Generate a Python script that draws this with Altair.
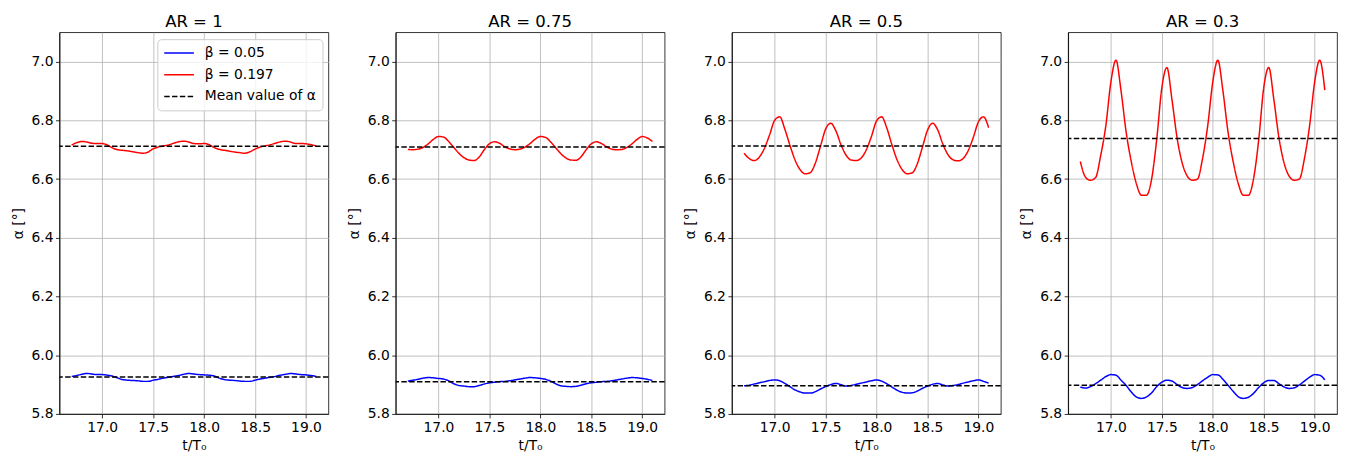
import altair as alt
import pandas as pd

T = [16.70, 16.75, 16.80, 16.85, 16.90, 16.95, 17.00, 17.05, 17.10, 17.15,
     17.20, 17.25, 17.30, 17.35, 17.40, 17.45, 17.50, 17.55, 17.60, 17.65,
     17.70, 17.75, 17.80, 17.85, 17.90, 17.95, 18.00, 18.05, 18.10, 18.15,
     18.20, 18.25, 18.30, 18.35, 18.40, 18.45, 18.50, 18.55, 18.60, 18.65,
     18.70, 18.75, 18.80, 18.85, 18.90, 18.95, 19.00, 19.05, 19.10]

AR_TITLES = ["AR = 1", "AR = 0.75", "AR = 0.5", "AR = 0.3"]

# AR = 1
B1 = [5.928, 5.931, 5.935, 5.938, 5.936, 5.934, 5.934, 5.932, 5.929, 5.923,
      5.917, 5.915, 5.914, 5.913, 5.911, 5.911, 5.915, 5.918, 5.922, 5.925,
      5.928, 5.931, 5.935, 5.938, 5.936, 5.934, 5.933, 5.932, 5.929, 5.922,
      5.917, 5.915, 5.914, 5.912, 5.911, 5.911, 5.915, 5.919, 5.922, 5.925,
      5.928, 5.932, 5.935, 5.938, 5.936, 5.934, 5.933, 5.931, 5.928]
R1 = [6.716, 6.724, 6.728, 6.726, 6.722, 6.721, 6.721, 6.716, 6.706, 6.700,
      6.698, 6.696, 6.693, 6.690, 6.688, 6.692, 6.703, 6.709, 6.713, 6.716,
      6.722, 6.727, 6.729, 6.726, 6.721, 6.720, 6.721, 6.717, 6.707, 6.701,
      6.698, 6.695, 6.692, 6.690, 6.688, 6.693, 6.702, 6.709, 6.713, 6.717,
      6.722, 6.727, 6.729, 6.726, 6.721, 6.721, 6.720, 6.717, 6.713]

# AR = 0.75
B2 = [5.912, 5.915, 5.918, 5.922, 5.924, 5.923, 5.921, 5.919, 5.913, 5.903,
      5.897, 5.895, 5.893, 5.893, 5.897, 5.902, 5.906, 5.908, 5.910, 5.911,
      5.913, 5.916, 5.919, 5.922, 5.924, 5.923, 5.921, 5.918, 5.912, 5.903,
      5.896, 5.894, 5.893, 5.894, 5.898, 5.903, 5.906, 5.908, 5.910, 5.911,
      5.913, 5.916, 5.919, 5.922, 5.924, 5.923, 5.921, 5.918, 5.914]
R2 = [6.701, 6.700, 6.702, 6.708, 6.720, 6.735, 6.745, 6.743, 6.728, 6.708,
      6.688, 6.673, 6.665, 6.663, 6.675, 6.700, 6.720, 6.727, 6.722, 6.710,
      6.703, 6.700, 6.702, 6.709, 6.721, 6.736, 6.745, 6.742, 6.727, 6.707,
      6.687, 6.672, 6.665, 6.664, 6.676, 6.700, 6.720, 6.727, 6.721, 6.710,
      6.702, 6.700, 6.701, 6.708, 6.720, 6.735, 6.745, 6.740, 6.728]

# AR = 0.5
B3 = [5.896, 5.898, 5.902, 5.906, 5.910, 5.914, 5.916, 5.913, 5.904, 5.893,
      5.882, 5.875, 5.871, 5.871, 5.876, 5.885, 5.893, 5.900, 5.904, 5.900,
      5.895, 5.897, 5.901, 5.905, 5.909, 5.913, 5.916, 5.912, 5.903, 5.892,
      5.881, 5.874, 5.871, 5.872, 5.878, 5.887, 5.895, 5.901, 5.904, 5.899,
      5.895, 5.897, 5.900, 5.905, 5.909, 5.913, 5.916, 5.911, 5.905]
R3 = [6.688, 6.670, 6.663, 6.675, 6.705, 6.750, 6.800, 6.812, 6.770, 6.715,
      6.665, 6.632, 6.618, 6.622, 6.655, 6.712, 6.770, 6.790, 6.765, 6.718,
      6.682, 6.665, 6.663, 6.672, 6.700, 6.745, 6.798, 6.812, 6.775, 6.718,
      6.667, 6.633, 6.618, 6.621, 6.652, 6.708, 6.766, 6.790, 6.768, 6.720,
      6.684, 6.666, 6.662, 6.670, 6.697, 6.742, 6.795, 6.812, 6.775]

# AR = 0.3
B4 = [5.892, 5.888, 5.893, 5.903, 5.915, 5.927, 5.934, 5.932, 5.915, 5.897,
      5.875, 5.858, 5.853, 5.858, 5.872, 5.893, 5.908, 5.915, 5.912, 5.900,
      5.890, 5.887, 5.890, 5.900, 5.913, 5.925, 5.934, 5.933, 5.918, 5.898,
      5.877, 5.859, 5.853, 5.857, 5.870, 5.890, 5.906, 5.914, 5.914, 5.903,
      5.892, 5.887, 5.889, 5.899, 5.912, 5.925, 5.934, 5.932, 5.916]
R4 = [6.660, 6.607, 6.596, 6.605, 6.680, 6.780, 6.930, 7.005, 6.900, 6.760,
      6.660, 6.585, 6.545, 6.545, 6.600, 6.735, 6.910, 6.980, 6.870, 6.740,
      6.655, 6.610, 6.596, 6.600, 6.670, 6.780, 6.930, 7.005, 6.900, 6.760,
      6.660, 6.585, 6.545, 6.545, 6.600, 6.730, 6.910, 6.980, 6.870, 6.740,
      6.655, 6.610, 6.596, 6.600, 6.670, 6.780, 6.930, 7.005, 6.903]

MEAN_BLUE = [5.926, 5.910, 5.896, 5.898]
MEAN_RED = [6.712, 6.709, 6.713, 6.738]

SERIES = ["β = 0.05", "β = 0.197", "Mean value of α"]
COLORS = ["#0000ff", "#ff0000", "#000000"]
DASHES = [[1, 0], [1, 0], [5.5, 2.4]]
X_TICKS = [17.0, 17.5, 18.0, 18.5, 19.0]
Y_TICKS = [5.8, 6.0, 6.2, 6.4, 6.6, 6.8, 7.0]

FONT = "DejaVu Sans"

legend = alt.Legend(
    title=None, orient="none", legendX=99, legendY=7,
    symbolType="stroke", symbolSize=900, symbolStrokeWidth=1.5,
    labelFontSize=14, labelFont=FONT, labelColor="black",
    fillColor="rgba(255,255,255,0.8)", strokeColor="#cccccc",
    cornerRadius=4, padding=6, rowPadding=6, clipHeight=16,
    labelOffset=10, labelLimit=300,
)

color = alt.Color("series:N", scale=alt.Scale(domain=SERIES, range=COLORS), legend=legend)
dash = alt.StrokeDash("series:N", scale=alt.Scale(domain=SERIES, range=DASHES), legend=legend)


def panel(title, blue, red, mb, mr):
    df = pd.DataFrame({
        "t": T + T,
        "alpha": blue + red,
        "series": [SERIES[0]] * len(T) + [SERIES[1]] * len(T),
    })
    mdf = pd.DataFrame({"alpha": [mb, mr], "series": [SERIES[2], SERIES[2]]})
    x = alt.X("t:Q", scale=alt.Scale(domain=[16.58, 19.22], nice=False, zero=False),
              axis=alt.Axis(title="t/T₀", values=X_TICKS, format=".1f"))
    y = alt.Y("alpha:Q", scale=alt.Scale(domain=[5.8, 7.1], nice=False, zero=False),
              axis=alt.Axis(title="α [°]", values=Y_TICKS, format=".1f",
                            titlePadding=6))
    lines = alt.Chart(df).mark_line(strokeWidth=1.5, interpolate="monotone").encode(
        x=x, y=y, color=color, strokeDash=dash)
    rules = alt.Chart(mdf).mark_rule(strokeWidth=1.5).encode(
        y=y, color=color, strokeDash=dash)
    return alt.layer(lines, rules).properties(
        width=272, height=386,
        title=alt.Title(title, fontSize=16.7, fontWeight="normal", font=FONT,
                        color="black", offset=2),
    )


panels = [panel(AR_TITLES[i], b, r, MEAN_BLUE[i], MEAN_RED[i])
          for i, (b, r) in enumerate([(B1, R1), (B2, R2), (B3, R3), (B4, R4)])]

chart = alt.hconcat(*panels, spacing=16).resolve_scale(
    color="shared", strokeDash="shared"
).properties(
    padding={"left": 2, "top": 2, "right": 2, "bottom": 2}
).configure_axis(
    labelFont=FONT, labelFontSize=14, labelColor="black",
    titleFont=FONT, titleFontSize=14, titleFontWeight="normal", titleColor="black",
    domainColor="black", domainWidth=0.8, tickColor="black", tickWidth=0.8,
    tickSize=4, labelPadding=2.5, gridColor="#b0b0b0", gridWidth=0.8,
).configure_view(stroke="black", strokeWidth=0.8).configure_title(anchor="middle")

chart.save("out.html", embed_options={"renderer": "svg", "actions": False})
